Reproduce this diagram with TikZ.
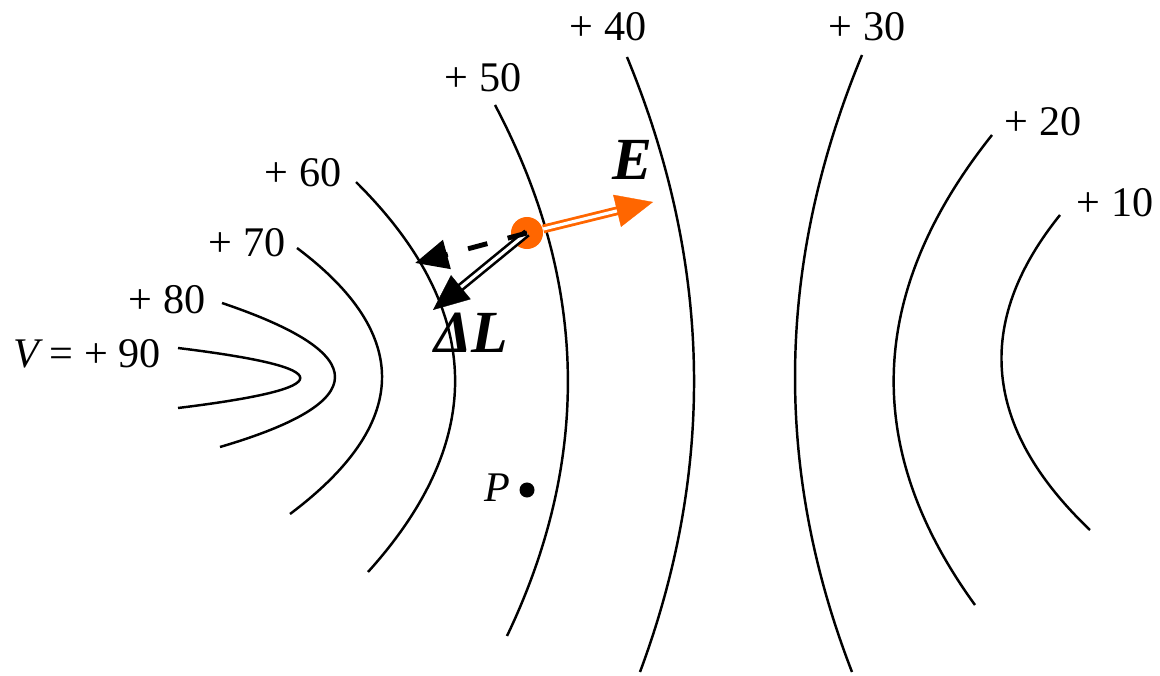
\documentclass[tikz,border=0pt]{standalone}
\usepackage{fontspec}
\setmainfont{Liberation Serif}
\usetikzlibrary{arrows.meta, calc}
\definecolor{corange}{HTML}{FF6600}

\begin{document}
\begin{tikzpicture}[x=0.01cm, y=-0.01cm,
  level/.style={line width=0.7pt},
  lab/.style={font=\fontsize{12}{14}\selectfont, inner sep=0pt},
  big/.style={font=\fontsize{17}{20}\selectfont\bfseries\itshape, inner sep=0pt}]
  \useasboundingbox (0,0) rectangle (1160,676);

  % Equipotentials, left group (V = +90 .. +40)
  \draw[level] (178,348) .. controls (341,368) and (341,388) .. (178,408);
  \draw[level] (222,303) .. controls (373,354) and (373,402) .. (220,447);
  \draw[level] (297,248) .. controls (413,335) and (410,424) .. (290,514);
  \draw[level] (356,182) .. controls (484,309) and (488,439) .. (368,572);
  \draw[level] (495,105) .. controls (588,281) and (592,458) .. (507,636);
  \draw[level] (627,57) .. controls (712,263) and (716,468) .. (640,672);
  % Right group (+30 .. +10)
  \draw[level] (862,55) .. controls (776,263) and (773,468) .. (852,672);
  \draw[level] (992,135) .. controls (867,292) and (861,448) .. (975,605);
  \draw[level] (1060,215) .. controls (973,323) and (983,428) .. (1090,530);

  % Labels
  \node[lab] (v90) at (87,354) {\itshape V\upshape{} = + 90};
  \node[lab] (v80) at (167,300) {+ 80};
  \node[lab] (v70) at (247,243) {+ 70};
  \node[lab] (v60) at (303,173) {+ 60};
  \node[lab] (v50) at (483,78) {+ 50};
  \node[lab] (v40) at (608,27) {+ 40};
  \node[lab] (v30) at (867,27) {+ 30};
  \node[lab] (v20) at (1043,122) {+ 20};
  \node[lab] (v10) at (1115,203) {+ 10};

  % Point P
  \node[lab] (p) at (497,488) {\itshape P};
  \node[circle, fill=black, inner sep=0pt, minimum size=0.15cm] (pdot) at (527,490) {};

  % Charge and vectors
  \node[circle, fill=corange, inner sep=0pt, minimum size=0.32cm] (q) at (527,233) {};
  \coordinate (etip) at (653,202);
  \coordinate (ltip) at (433,310);
  \coordinate (dtip) at (415,263);
  \draw[corange, line width=0.8pt, double=white, double distance=0.9pt]
    (q) -- ($(etip)!0.33cm!(q)$);
  \draw[corange, line width=0.1pt, -{Triangle[length=3.7mm, width=3.3mm]}]
    ($(etip)!0.37cm!(q)$) -- (etip);
  \draw[black, line width=0.75pt, double=white, double distance=0.9pt]
    (q.center) -- ($(ltip)!0.3cm!(q)$);
  \draw[black, line width=0.1pt, -{Triangle[length=3.6mm, width=3.1mm]}]
    ($(ltip)!0.36cm!(q)$) -- (ltip);
  \draw[black, line width=1.4pt, dash pattern=on 0.2cm off 0.21cm,
    -{Triangle[length=3.3mm, width=2.9mm]}] (q.center) -- (dtip);

  \node[big] (elab) at (632,160) {E};
  \node[big] (dl) at (471,333) {ΔL};
\end{tikzpicture}
\end{document}
